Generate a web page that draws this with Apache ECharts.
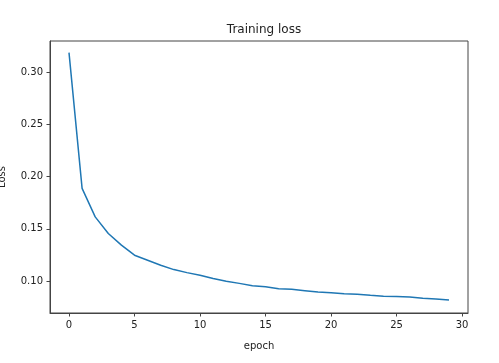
<!DOCTYPE html>
<html><head><meta charset="utf-8">
<script src="https://cdn.jsdelivr.net/npm/echarts@6/dist/echarts.min.js"></script>
<style>html,body{margin:0;padding:0;background:#fff}#c{width:499px;height:363px}</style>
</head><body><div id="c"></div>
<script>
const epochs = [0,1,2,3,4,5,6,7,8,9,10,11,12,13,14,15,16,17,18,19,20,21,22,23,24,25,26,27,28,29];
const loss = [0.3188,0.1887,0.1614,0.1455,0.1343,0.1247,0.1199,0.1150,0.1109,0.1080,0.1055,0.1023,0.0997,0.0977,0.0954,0.0945,0.0926,0.0920,0.0907,0.0894,0.0888,0.0878,0.0872,0.0862,0.0853,0.0850,0.0847,0.0834,0.0827,0.0818];
const xTicks = [0,5,10,15,20,25,30];
const yTicks = [0.10,0.15,0.20,0.25,0.30];

const chart = echarts.init(document.getElementById('c'), null, {renderer:'canvas'});
const font = 'DejaVu Sans';
chart.setOption({
  animation:false,
  title:{text:'Training loss', left:259, top:19, textAlign:'center',
    textStyle:{fontFamily:font, fontSize:12, fontWeight:'normal', color:'#222'}},
  grid:{left:50, top:41, right:31, bottom:50, show:true, borderColor:'#444', borderWidth:1,
    containLabel:false, outerBoundsMode:'none'},
  xAxis:{type:'value', min:-1.45, max:30.45,
    name:'epoch', nameLocation:'middle', nameGap:28,
    nameTextStyle:{fontFamily:font, fontSize:10, color:'#222'},
    axisLine:{show:true, onZero:false, lineStyle:{color:'#444', width:1}},
    axisTick:{show:true, customValues:xTicks, length:3.5, lineStyle:{color:'#444'}},
    axisLabel:{customValues:xTicks, margin:7, fontFamily:font, fontSize:10, color:'#222'},
    splitLine:{show:false}},
  yAxis:{type:'value', min:0.0693, max:0.330,
    name:'Loss', nameLocation:'middle', nameGap:43, nameRotate:90,
    nameTextStyle:{fontFamily:font, fontSize:10, color:'#222'},
    axisLine:{show:true, onZero:false, lineStyle:{color:'#444', width:1}},
    axisTick:{show:true, customValues:yTicks, length:3.5, lineStyle:{color:'#444'}},
    axisLabel:{customValues:yTicks, margin:7, fontFamily:font, fontSize:10, color:'#222',
      formatter:v=>v.toFixed(2)},
    splitLine:{show:false}},
  series:[{type:'line', data:epochs.map((e,i)=>[e,loss[i]]), showSymbol:false,
    lineStyle:{color:'#1f77b4', width:1.5}, itemStyle:{color:'#1f77b4'}}]
});
</script></body></html>
